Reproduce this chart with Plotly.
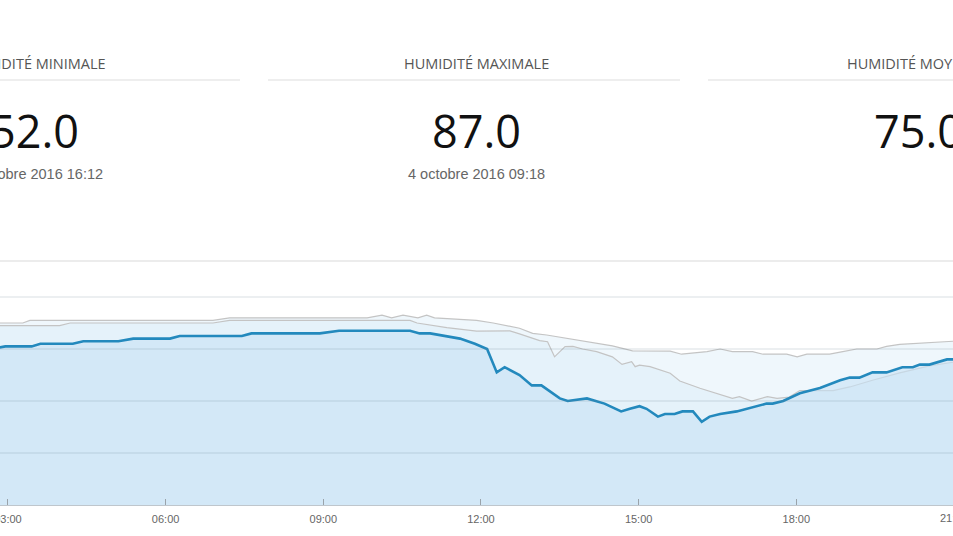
import plotly.graph_objects as go

DAY = "2016-10-04 "

# Humidity of the day (blue series)
hum_time = ["02:40", "02:57", "03:27", "03:37", "04:14", "04:26", "05:06", "05:23", "06:05", "06:16",
            "07:27", "07:38", "08:56", "09:18", "10:39", "10:50", "11:02", "11:19", "11:36", "11:53",
            "12:07", "12:18", "12:27", "12:44", "12:58", "13:09", "13:30", "13:39", "14:01", "14:21",
            "14:40", "14:50", "15:01", "15:09", "15:22", "15:30", "15:41", "15:50", "16:02", "16:12",
            "16:21", "16:33", "16:52", "17:26", "17:33", "17:45", "18:04", "18:27", "18:50", "19:01",
            "19:12", "19:27", "19:43", "20:01", "20:13", "20:21", "20:32", "20:52", "20:59", "21:10"]
hum_val = [80, 81, 81, 82, 82, 83, 83, 84, 84, 85,
           85, 86, 86, 87, 87, 86, 86, 85, 84, 82,
           80, 71, 73, 70, 66, 66, 61, 60, 61, 59,
           56, 57, 58, 57, 54, 55, 55, 56, 56, 52,
           54, 55, 56, 59, 59, 60, 63, 65, 68, 69,
           69, 71, 71, 73, 73, 74, 74, 76, 76, 76]

# Upper reference curve (grey)
hi_time = ["02:40", "03:17", "03:25", "06:54", "07:13", "09:50", "10:07", "10:18", "10:31", "10:48",
           "10:58", "11:07", "11:55", "12:14", "12:44", "12:59", "13:15", "13:45", "14:01", "14:30",
           "14:53", "15:36", "15:49", "16:18", "16:33", "16:47", "17:10", "17:22", "17:49", "18:01",
           "18:12", "18:38", "18:53", "19:09", "19:32", "19:43", "19:58", "20:17", "20:36", "20:59", "21:10"]
hi_val = [90, 90, 91, 91, 92, 92, 93, 92, 93, 92,
          93, 92, 91, 90, 88, 86, 85.4, 83.8, 82.8, 81.2,
          79.3, 79.2, 78, 79, 80, 79, 79, 78, 78, 77,
          78, 78, 79, 80, 80, 81, 81.8, 82.2, 82.8, 83, 83.2]

# Lower reference curve (grey)
lo_time = ["02:40", "03:59", "04:11", "06:54", "07:13", "10:39", "10:47", "11:21", "11:55", "12:33",
           "12:44", "13:07", "13:16", "13:24", "13:36", "13:45", "13:56", "14:12", "14:30", "14:41",
           "14:52", "14:56", "15:01", "15:13", "15:36", "15:47", "16:10", "16:33", "16:47", "16:55",
           "17:09", "17:27", "17:38", "17:52", "18:04", "18:42", "19:01", "19:27", "19:58", "20:32",
           "20:59", "21:10"]
lo_val = [89, 89, 90, 90, 91, 91, 90, 88.2, 86.9, 87,
          85.8, 83.2, 82.8, 77, 80.9, 81, 80, 79, 77, 74.1,
          75.1, 73.2, 73.8, 73.2, 70.7, 67.7, 64.9, 62.3, 61, 61.7,
          60, 61.7, 61, 61.5, 64, 64, 65.4, 68, 70.8, 73.5,
          75, 75.5]

grid_vals = [40, 60, 80, 100]

stat_titles = ["HUMIDITÉ MINIMALE", "HUMIDITÉ MAXIMALE", "HUMIDITÉ MOYENNE"]
stat_values = ["52.0", "87.0", "75.0"]
stat_dates = ["4 octobre 2016 16:12", "4 octobre 2016 09:18", ""]

W, H = 953, 536
PT, PB = 261, 505  # plot area top/bottom in px


def px(x):
    return x / W


def py(y):
    return (PB - y) / (PB - PT)


fig = go.Figure()
fig.add_trace(go.Scatter(x=[DAY + t for t in hi_time], y=hi_val, mode="lines",
                         line=dict(color="#c4c4c4", width=1.2), fill="tozeroy",
                         fillcolor="rgba(214,234,248,0.38)", hoverinfo="skip"))
fig.add_trace(go.Scatter(x=[DAY + t for t in lo_time], y=lo_val, mode="lines",
                         line=dict(color="#c4c4c4", width=1.2), fill="tozeroy",
                         fillcolor="rgba(214,234,248,0.38)", hoverinfo="skip"))
fig.add_trace(go.Scatter(x=[DAY + t for t in hum_time], y=hum_val, mode="lines",
                         line=dict(color="#2389bd", width=2.6), fill="tozeroy",
                         fillcolor="rgba(200,226,245,0.62)"))

ann = []
shapes = []
centers = [34, 476, 918]
for c, t, v, d in zip(centers, stat_titles, stat_values, stat_dates):
    ann.append(dict(x=px(c), y=py(63), xref="paper", yref="paper", text=t, showarrow=False,
                    xanchor="center", yanchor="middle",
                    font=dict(family="Open Sans", size=14.5, color="#555555")))
    ann.append(dict(x=px(c), y=py(130), xref="paper", yref="paper", text=v, showarrow=False,
                    xanchor="center", yanchor="middle",
                    font=dict(family="Open Sans", size=45, color="#111111")))
    if d:
        ann.append(dict(x=px(c), y=py(174), xref="paper", yref="paper", text=d, showarrow=False,
                        xanchor="center", yanchor="middle",
                        font=dict(family="Liberation Sans", size=14.5, color="#666666")))

for x0, x1 in [(-200, 240), (268, 680), (708, 1150)]:
    shapes.append(dict(type="line", xref="paper", yref="paper", x0=px(x0), x1=px(x1),
                       y0=py(80), y1=py(80), line=dict(color="#dddddd", width=1)))
shapes.append(dict(type="line", xref="paper", yref="paper", x0=0, x1=1, y0=1, y1=1,
                   line=dict(color="#d9d9d9", width=1)))
for g in grid_vals:
    shapes.append(dict(type="line", xref="paper", yref="y", x0=0, x1=1, y0=g, y1=g,
                       layer="above", line=dict(color="rgba(110,130,150,0.26)", width=1)))

# partially visible 21:00 label at the right edge
ann.append(dict(x=px(954), y=py(518), xref="paper", yref="paper", text="21:00", showarrow=False,
                xanchor="center", yanchor="middle",
                font=dict(family="Liberation Sans", size=11, color="#666666")))

fig.update_layout(
    width=W, height=H,
    margin=dict(l=0, r=0, t=PT, b=H - PB, pad=0, autoexpand=False),
    paper_bgcolor="white", plot_bgcolor="white",
    showlegend=False,
    annotations=ann, shapes=shapes,
    xaxis=dict(type="date", range=[DAY + "02:50:54", DAY + "20:58:52"],
               tick0=DAY + "00:00", dtick=3 * 3600 * 1000, tickformat="%H:%M",
               showgrid=False, zeroline=False, showline=True, linecolor="#bfc6cc", linewidth=1,
               ticks="inside", ticklen=6, tickcolor="#9aa3aa", ticklabelstandoff=4,
               ticklabeloverflow="allow", automargin=False,
               tickfont=dict(family="Liberation Sans", size=11, color="#666666")),
    yaxis=dict(range=[20, 113.85], showticklabels=False, automargin=False,
               showgrid=False, zeroline=False, showline=False),
)

fig.write_html("out.html", config={"displayModeBar": False},
               post_script="document.body.style.margin='0';document.body.style.overflow='hidden';")
